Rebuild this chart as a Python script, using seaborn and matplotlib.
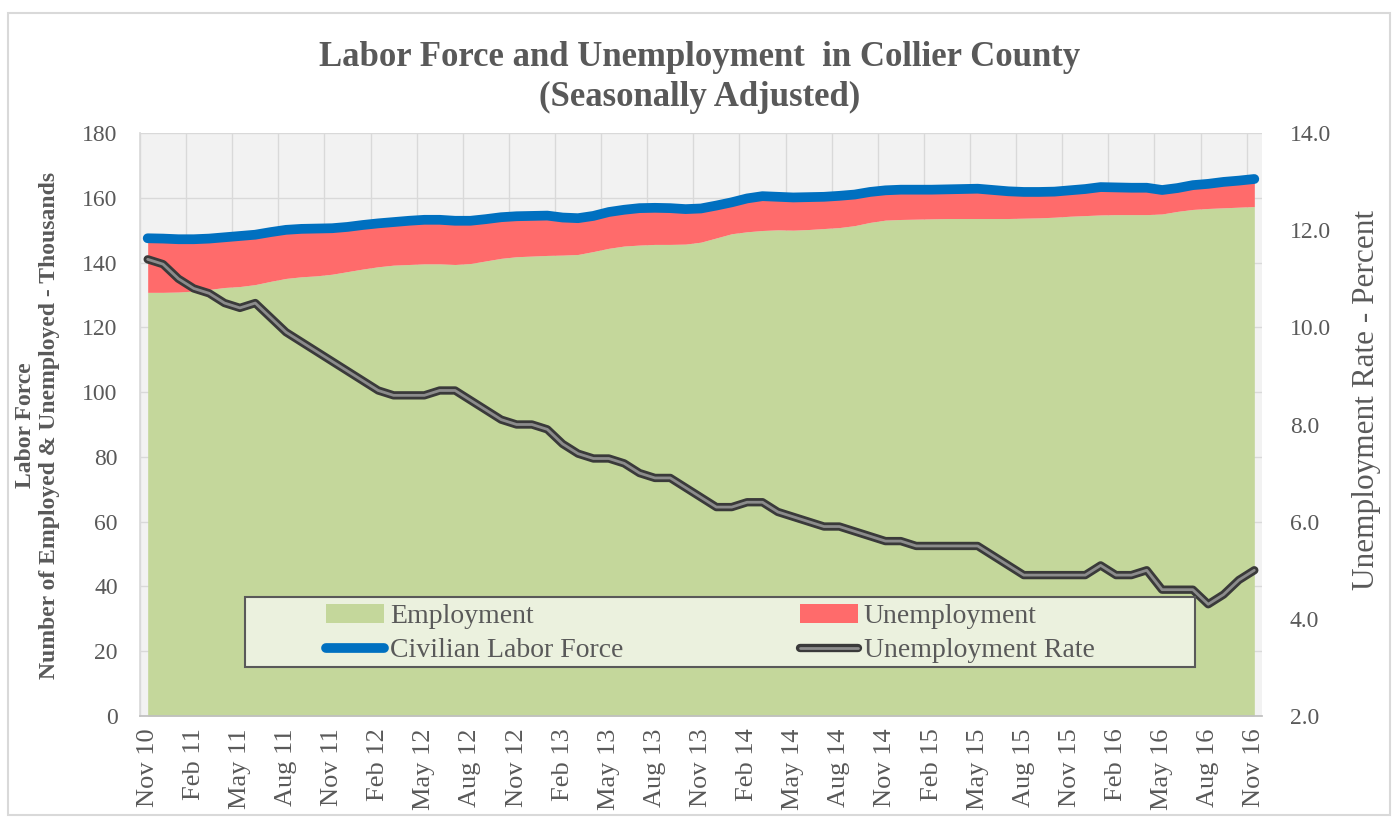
import numpy as np
import pandas as pd
import seaborn as sns
import matplotlib
matplotlib.use("Agg")
import matplotlib.pyplot as plt
import matplotlib.patheffects as pe
from matplotlib.patches import Patch, Rectangle
from matplotlib.lines import Line2D
from matplotlib.ticker import MultipleLocator, FixedLocator, FormatStrFormatter

# monthly, Nov 2010 .. Nov 2016
months = pd.date_range("2010-11-01", "2016-11-01", freq="MS")
month_labels = [d.strftime("%b %y") for d in months]

# Civilian labor force, thousands
labor_force = [
    147.5, 147.4, 147.2, 147.2, 147.4, 147.8, 148.2, 148.6, 149.4, 150.1,
    150.4, 150.5, 150.6, 151.0, 151.6, 152.1, 152.5, 152.9, 153.2, 153.2,
    152.9, 152.9, 153.4, 154.0, 154.3, 154.4, 154.5, 153.9, 153.7, 154.4,
    155.6, 156.3, 156.8, 156.9, 156.8, 156.5, 156.7, 157.6, 158.6, 159.8,
    160.5, 160.3, 160.1, 160.2, 160.3, 160.6, 161.0, 161.8, 162.3, 162.5,
    162.5, 162.5, 162.6, 162.7, 162.8, 162.4, 162.0, 161.8, 161.8, 161.9,
    162.3, 162.7, 163.3, 163.2, 163.1, 163.1, 162.4, 163.0, 163.9, 164.3,
    164.9, 165.3, 165.8,
]

# Employment, thousands
employment = [
    130.8, 130.8, 130.9, 131.2, 131.7, 132.3, 132.6, 133.2, 134.2, 135.1,
    135.6, 135.9, 136.4, 137.2, 138.0, 138.7, 139.2, 139.4, 139.6, 139.6,
    139.4, 139.7, 140.5, 141.3, 141.8, 142.0, 142.2, 142.3, 142.5, 143.4,
    144.4, 145.1, 145.4, 145.6, 145.6, 145.7, 146.3, 147.6, 148.9, 149.5,
    149.9, 150.1, 150.0, 150.2, 150.5, 150.8, 151.4, 152.4, 153.1, 153.3,
    153.4, 153.5, 153.6, 153.6, 153.6, 153.6, 153.6, 153.7, 153.8, 154.0,
    154.3, 154.5, 154.7, 154.8, 154.8, 154.8, 155.0, 155.8, 156.4, 156.7,
    156.9, 157.1, 157.3,
]

# Unemployment rate, percent
unemployment_rate = [
    11.4, 11.3, 11.0, 10.8, 10.7, 10.5, 10.4, 10.5, 10.2, 9.9,
    9.7, 9.5, 9.3, 9.1, 8.9, 8.7, 8.6, 8.6, 8.6, 8.7,
    8.7, 8.5, 8.3, 8.1, 8.0, 8.0, 7.9, 7.6, 7.4, 7.3,
    7.3, 7.2, 7.0, 6.9, 6.9, 6.7, 6.5, 6.3, 6.3, 6.4,
    6.4, 6.2, 6.1, 6.0, 5.9, 5.9, 5.8, 5.7, 5.6, 5.6,
    5.5, 5.5, 5.5, 5.5, 5.5, 5.3, 5.1, 4.9, 4.9, 4.9,
    4.9, 4.9, 5.1, 4.9, 4.9, 5.0, 4.6, 4.6, 4.6, 4.3,
    4.5, 4.8, 5.0,
]

df = pd.DataFrame({
    "i": np.arange(len(months)),
    "Month": month_labels,
    "Civilian Labor Force": labor_force,
    "Employment": employment,
    "Unemployment Rate": unemployment_rate,
})

sns.set_theme(style="white")
plt.rcParams["font.family"] = ["Liberation Serif", "DejaVu Serif"]
txt = "#595959"

GREEN = "#C4D79B"
RED = "#FF6B6B"
BLUE = "#0070C0"

fig = plt.figure(figsize=(14, 8.22), dpi=100)
fig.patches.append(Rectangle((8 / 1400, 7 / 822), 1382 / 1400, 802 / 822,
                             transform=fig.transFigure, fill=False,
                             edgecolor="#D9D9D9", linewidth=1.5))
ax = fig.add_axes([140 / 1400, 106 / 822, 1122 / 1400, 583 / 822])
ax.set_facecolor("#F2F2F2")

x = df["i"]
ax.fill_between(x, 0, df["Employment"], color=GREEN, linewidth=0, zorder=2)
ax.fill_between(x, df["Employment"], df["Civilian Labor Force"], color=RED,
                linewidth=0, zorder=2)
sns.lineplot(data=df, x="i", y="Civilian Labor Force", ax=ax, color=BLUE,
             linewidth=7, sort=False, estimator=None, zorder=4,
             solid_capstyle="round")

ax.set_xlim(-0.5, len(months) - 0.5)
ax.set_ylim(0, 180)
ax.yaxis.set_major_locator(MultipleLocator(20))
ax.grid(axis="y", color="#D9D9D9", linewidth=1, zorder=1)
ax.set_axisbelow(True)

# category gridlines between months, labels every 3rd month
ax.xaxis.set_minor_locator(FixedLocator(np.arange(-0.5, len(months), 3)))
ax.grid(axis="x", which="minor", color="#D9D9D9", linewidth=1)
ax.set_xticks(df["i"][::3])
ax.set_xticklabels(df["Month"][::3], rotation=90, fontsize=19, color=txt)
ax.tick_params(axis="x", which="major", length=0, pad=9)
ax.tick_params(axis="x", which="minor", length=6, color="#BFBFBF")
ax.tick_params(axis="y", labelsize=17, labelcolor=txt, length=0, pad=16)

for s in ["top", "right"]:
    ax.spines[s].set_visible(False)
ax.spines["left"].set_color("#D9D9D9")
ax.spines["bottom"].set_color("#BFBFBF")
ax.set_xlabel("")
ax.set_ylabel("Labor Force\nNumber of Employed & Unemployed - Thousands",
              fontsize=17, fontweight="bold", color=txt, linespacing=1.2)
ax.yaxis.set_label_coords(-0.0713, 0.498)

ax2 = ax.twinx()
rate_fx = [pe.Stroke(linewidth=6, foreground="#3A3A3A"), pe.Normal()]
sns.lineplot(data=df, x="i", y="Unemployment Rate", ax=ax2, color="#8C8C8C",
             linewidth=2, sort=False, estimator=None, path_effects=rate_fx,
             zorder=5)
ax2.set_ylim(2, 14)
ax2.yaxis.set_major_locator(MultipleLocator(2))
ax2.yaxis.set_major_formatter(FormatStrFormatter("%.1f"))
ax2.tick_params(axis="y", labelsize=17, labelcolor=txt, length=0, pad=20)
ax2.set_ylabel("Unemployment Rate - Percent", fontsize=22.5, color=txt)
ax2.yaxis.set_label_coords(1.080, 0.542)
ax2.grid(False)
for s in ["top", "right", "left", "bottom"]:
    ax2.spines[s].set_visible(False)

fig.text(0.5, 1 - 57 / 822, "Labor Force and Unemployment  in Collier County",
         ha="center", va="center", fontsize=25, fontweight="bold", color=txt)
fig.text(0.5, 1 - 97 / 822, "(Seasonally Adjusted)",
         ha="center", va="center", fontsize=25, fontweight="bold", color=txt)

# legend box with two columns placed separately
ax2.add_patch(Rectangle((0.0936, 0.084), 0.8467, 0.12, transform=ax2.transAxes,
                        facecolor="#EBF1DE", edgecolor="#595959",
                        linewidth=1.5, zorder=8))
col1 = [
    Patch(facecolor=GREEN, edgecolor="none", label="Employment"),
    Line2D([], [], color=BLUE, linewidth=7, solid_capstyle="round",
           label="Civilian Labor Force"),
]
col2 = [
    Patch(facecolor=RED, edgecolor="none", label="Unemployment"),
    Line2D([], [], color="#8C8C8C", linewidth=2, path_effects=rate_fx,
           label="Unemployment Rate"),
]
leg_kw = dict(loc="center left", fontsize=20, frameon=False, borderpad=0,
              borderaxespad=0, handlelength=2.1, handletextpad=0.2,
              labelspacing=0.32, labelcolor=txt)
leg1 = ax2.legend(handles=col1, bbox_to_anchor=(0.1658, 0.1415), **leg_kw)
leg1.set_zorder(9)
ax2.add_artist(leg1)
leg2 = ax2.legend(handles=col2, bbox_to_anchor=(0.588, 0.1415), **leg_kw)
leg2.set_zorder(9)

fig.savefig("out.png", dpi=100)
